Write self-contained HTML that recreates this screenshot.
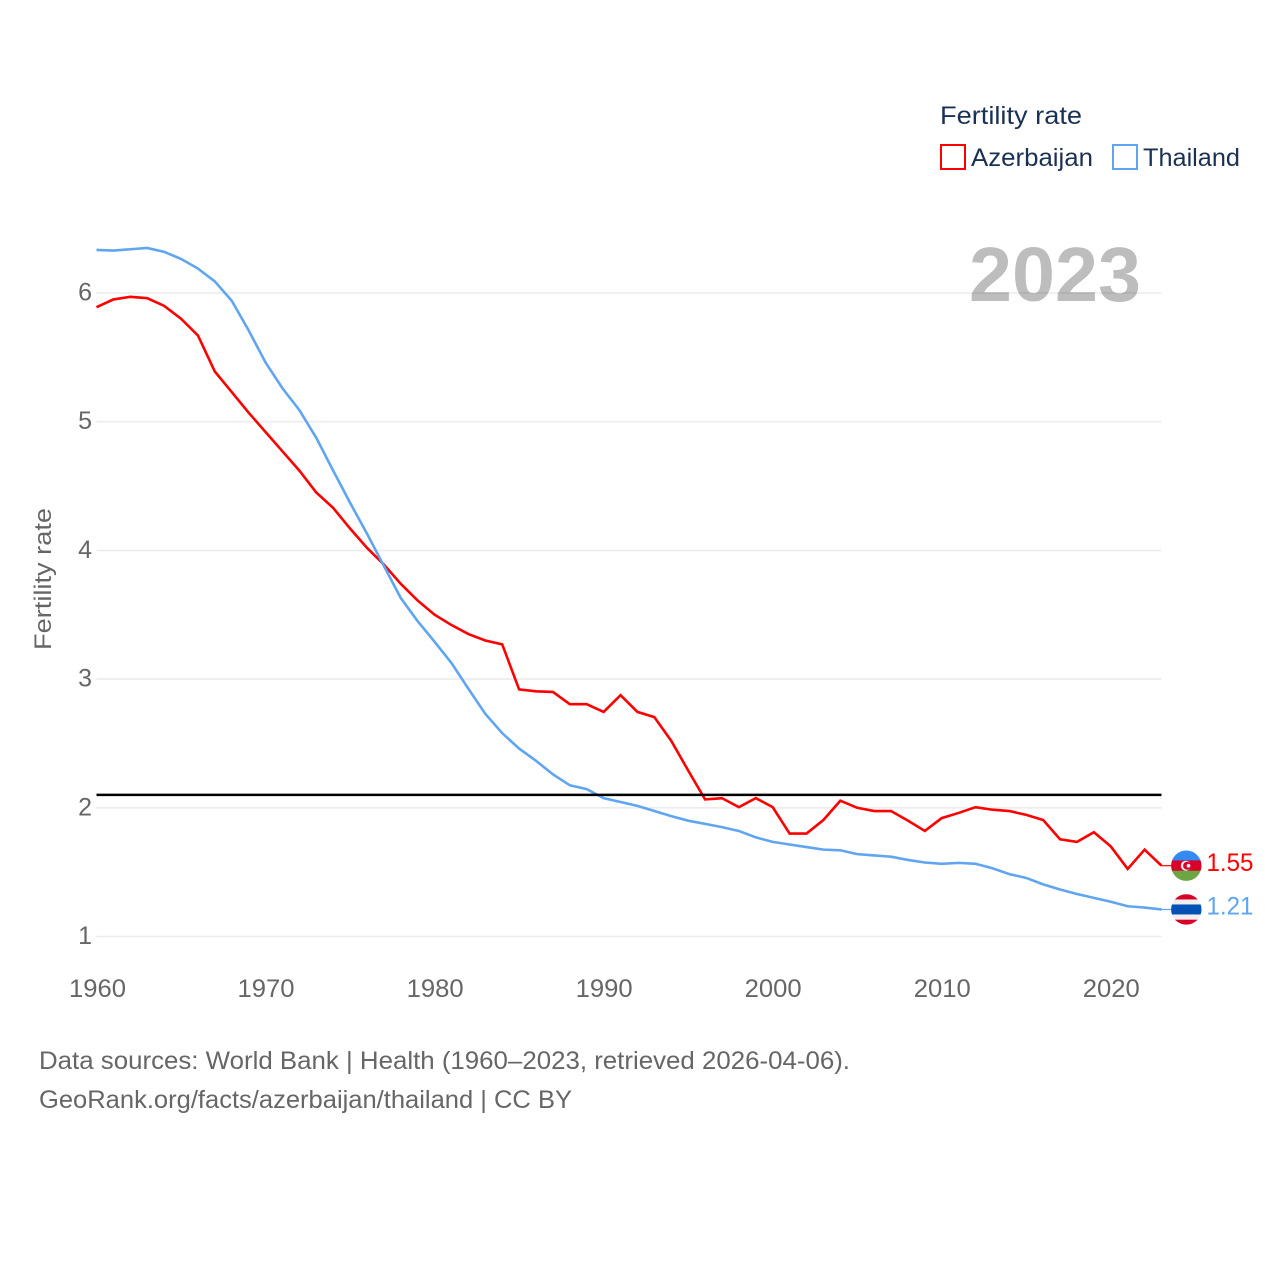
<!DOCTYPE html>
<html lang="en">
<head>
<meta charset="utf-8">
<title>Fertility rate: Azerbaijan and Thailand</title>
<style>
html,body{margin:0;padding:0;background:#fff;}
svg{display:block;font-family:"Liberation Sans",sans-serif;}
</style>
</head>
<body>
<svg id="chart" width="1280" height="1280" viewBox="0 0 1280 1280" xmlns="http://www.w3.org/2000/svg">
  <rect width="1280" height="1280" fill="#fff"/>
  <g id="grid"></g>
  <g id="yticks"></g>
  <g id="xticks"></g>
  <text x="969" y="301" font-size="77" font-weight="700" fill="#000" fill-opacity="0.26" textLength="172" lengthAdjust="spacingAndGlyphs">2023</text>
  <text transform="translate(51,650) rotate(-90)" font-size="24" fill="#666" textLength="142" lengthAdjust="spacingAndGlyphs">Fertility rate</text>
  <g id="series"></g>
  <line id="refline" stroke="#000" stroke-width="2.5"/>

  <g id="flag-az">
    <clipPath id="clip-az"><circle cx="0" cy="0" r="15.2"/></clipPath>
    <g clip-path="url(#clip-az)">
      <rect x="-16" y="-16" width="32" height="11" fill="#338af3"/>
      <rect x="-16" y="-5.3" width="32" height="10.6" fill="#d80027"/>
      <rect x="-16" y="5" width="32" height="11" fill="#6da544"/>
      <circle cx="-0.5" cy="0" r="5" fill="#f0f0f0"/>
      <circle cx="0.8" cy="0" r="4" fill="#d80027"/>
      <circle cx="2.2" cy="0" r="1.9" fill="#f0f0f0"/>
    </g>
  </g>
  <g id="flag-th">
    <clipPath id="clip-th"><circle cx="0" cy="0" r="15.2"/></clipPath>
    <g clip-path="url(#clip-th)">
      <rect x="-16" y="-16" width="32" height="32" fill="#f0f0f0"/>
      <rect x="-16" y="-16" width="32" height="6" fill="#d80027"/>
      <rect x="-16" y="10.2" width="32" height="6" fill="#d80027"/>
      <rect x="-16" y="-5" width="32" height="10" fill="#0052b4"/>
    </g>
  </g>
  <text id="value-az" x="1206.5" font-size="25" fill="#ff0000" textLength="47" lengthAdjust="spacingAndGlyphs"></text>
  <text id="value-th" x="1206.5" font-size="25" fill="#60a5f0" textLength="47" lengthAdjust="spacingAndGlyphs"></text>

  <g>
    <text x="940" y="124" font-size="25" fill="#1b3153" textLength="142" lengthAdjust="spacingAndGlyphs">Fertility rate</text>
    <g>
      <rect x="941" y="145" width="24" height="24" fill="#fff" stroke="#ff0000" stroke-width="2"/>
      <text x="971" y="166" font-size="25" fill="#1b3153" textLength="122" lengthAdjust="spacingAndGlyphs">Azerbaijan</text>
    </g>
    <g>
      <rect x="1113" y="145" width="24" height="24" fill="#fff" stroke="#60a5f0" stroke-width="2"/>
      <text x="1143" y="166" font-size="25" fill="#1b3153" textLength="97" lengthAdjust="spacingAndGlyphs">Thailand</text>
    </g>
  </g>

  <text x="39" y="1069" font-size="25" fill="#666" textLength="811" lengthAdjust="spacingAndGlyphs">Data sources: World Bank | Health (1960–2023, retrieved 2026-04-06).</text>
  <text x="39" y="1108" font-size="25" fill="#666" textLength="533" lengthAdjust="spacingAndGlyphs">GeoRank.org/facts/azerbaijan/thailand | CC BY</text>
</svg>
<script>
var startYear = 1960;
var azerbaijan = [5.89,5.95,5.97,5.96,5.90,5.80,5.67,5.39,5.23,5.07,4.92,4.77,4.62,4.45,4.33,4.17,4.02,3.89,3.74,3.61,3.50,3.42,3.35,3.30,3.27,2.92,2.905,2.90,2.805,2.805,2.745,2.875,2.745,2.705,2.52,2.29,2.065,2.075,2.005,2.075,2.005,1.80,1.80,1.905,2.055,2.00,1.975,1.975,1.90,1.82,1.92,1.96,2.005,1.985,1.975,1.945,1.905,1.755,1.735,1.81,1.70,1.525,1.675,1.55];
var thailand = [6.335,6.33,6.34,6.35,6.32,6.265,6.19,6.09,5.94,5.71,5.46,5.26,5.09,4.875,4.62,4.37,4.13,3.88,3.63,3.45,3.29,3.125,2.925,2.73,2.58,2.46,2.365,2.26,2.175,2.145,2.075,2.045,2.015,1.975,1.935,1.90,1.875,1.85,1.82,1.77,1.735,1.715,1.695,1.675,1.67,1.64,1.63,1.62,1.595,1.575,1.565,1.572,1.565,1.53,1.485,1.455,1.405,1.365,1.33,1.30,1.27,1.235,1.225,1.21];
var yTickValues = [1,2,3,4,5,6];
var xTickValues = [1960,1970,1980,1990,2000,2010,2020];
var referenceRate = 2.1;
var azerbaijanLabel = '1.55';
var thailandLabel = '1.21';

var NS = 'http://www.w3.org/2000/svg';
function xScale(year){ return 96.5 + (year - 1960) * (1161.5 - 96.5) / 63; }
function yScale(v){ return 936.5 - (v - 1) * 128.7; }

var grid = document.getElementById('grid');
var yticks = document.getElementById('yticks');
yTickValues.forEach(function(v){
  var l = document.createElementNS(NS,'line');
  
  
  l.setAttribute('x1', xScale(1960));
  l.setAttribute('x2', xScale(2023));
  l.setAttribute('y1', yScale(v));
  l.setAttribute('y2', yScale(v));
  l.setAttribute('stroke', '#ececec');
  l.setAttribute('stroke-width', '1.6');
  grid.appendChild(l);
  var t = document.createElementNS(NS,'text');
  
  
  t.setAttribute('x', 92);
  t.setAttribute('y', yScale(v) + 7.5);
  t.setAttribute('text-anchor', 'end');
  t.setAttribute('font-size', '25');
  t.setAttribute('fill', '#666');
  t.textContent = v;
  yticks.appendChild(t);
});

var xticks = document.getElementById('xticks');
xTickValues.forEach(function(yr){
  var t = document.createElementNS(NS,'text');
  
  
  t.setAttribute('x', xScale(yr) - 28 + (yr === 1960 ? 0.5 : 0));
  t.setAttribute('y', 997);
  t.setAttribute('font-size', '25');
  t.setAttribute('fill', '#666');
  t.setAttribute('textLength', '57');
  t.setAttribute('lengthAdjust', 'spacingAndGlyphs');
  t.textContent = yr;
  xticks.appendChild(t);
});

function linePoints(values){
  return values.map(function(v,i){
    return xScale(startYear + i).toFixed(2) + ',' + yScale(v).toFixed(2);
  }).join(' ');
}
var series = document.getElementById('series');

var azLine = document.createElementNS(NS,'polyline');


azLine.setAttribute('points', linePoints(azerbaijan));
azLine.setAttribute('fill', 'none');
azLine.setAttribute('stroke', '#ff0000');
azLine.setAttribute('stroke-width', '2.6');
series.appendChild(azLine);

var thLine = document.createElementNS(NS,'polyline');


thLine.setAttribute('points', linePoints(thailand));
thLine.setAttribute('fill', 'none');
thLine.setAttribute('stroke', '#60a5f0');
thLine.setAttribute('stroke-width', '2.6');
series.appendChild(thLine);

var azEnd = azerbaijan[azerbaijan.length - 1];
var thEnd = thailand[thailand.length - 1];

var azStub = document.createElementNS(NS,'line');


azStub.setAttribute('x1', xScale(2023));
azStub.setAttribute('x2', 1172);
azStub.setAttribute('y1', yScale(azEnd));
azStub.setAttribute('y2', yScale(azEnd));
azStub.setAttribute('stroke', '#ff0000');
azStub.setAttribute('stroke-width', '1.2');
series.appendChild(azStub);

var thStub = document.createElementNS(NS,'line');


thStub.setAttribute('x1', xScale(2023));
thStub.setAttribute('x2', 1172);
thStub.setAttribute('y1', yScale(thEnd));
thStub.setAttribute('y2', yScale(thEnd));
thStub.setAttribute('stroke', '#60a5f0');
thStub.setAttribute('stroke-width', '1.2');
series.appendChild(thStub);

var ref = document.getElementById('refline');
ref.setAttribute('x1', xScale(1960));
ref.setAttribute('x2', xScale(2023));
ref.setAttribute('y1', yScale(referenceRate));
ref.setAttribute('y2', yScale(referenceRate));

document.getElementById('flag-az').setAttribute('transform', 'translate(1186.3,' + yScale(azEnd) + ')');
document.getElementById('flag-th').setAttribute('transform', 'translate(1186.3,' + yScale(thEnd) + ')');
var vAz = document.getElementById('value-az');
vAz.setAttribute('y', yScale(azEnd) + 5.5);
vAz.textContent = azerbaijanLabel;
var vTh = document.getElementById('value-th');
vTh.setAttribute('y', yScale(thEnd) + 5);
vTh.textContent = thailandLabel;
</script>
</body>
</html>
